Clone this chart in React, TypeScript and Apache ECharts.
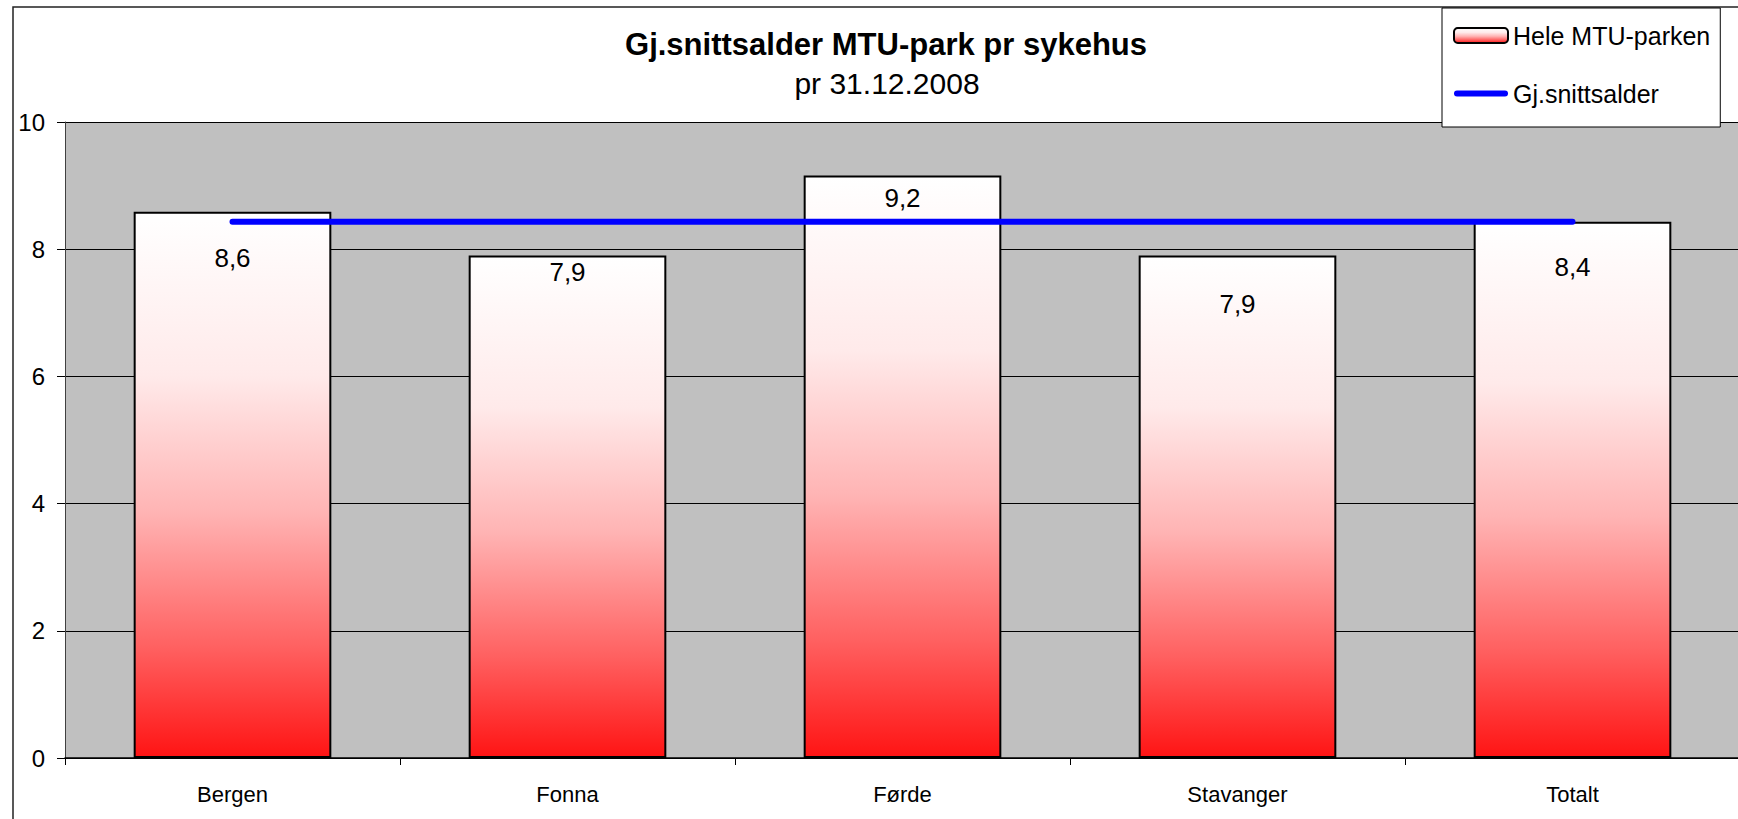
import React, { useEffect, useRef } from "react";
import * as echarts from "echarts";

const categories = ["Bergen", "Fonna", "Førde", "Stavanger", "Totalt"];
const barValues = [8.59, 7.9, 9.16, 7.9, 8.43];
const lineValues = [8.43, 8.43, 8.43, 8.43, 8.43];
const labelDy = [46, 16, 23, 48, 45];
const titleText = "Gj.snittsalder MTU-park pr sykehus";
const subtitleText = "pr 31.12.2008";
const barName = "Hele MTU-parken";
const lineName = "Gj.snittsalder";

export default function App() {
  const ref = useRef<HTMLDivElement>(null);
  useEffect(() => {
    if (!ref.current) return;
    const chart = echarts.init(ref.current, null, { renderer: "svg" });
    const font = "'Liberation Sans', Arial, sans-serif";
    const grad = new echarts.graphic.LinearGradient(0, 0, 0, 1, [
      { offset: 0, color: "#FFFFFF" },
      { offset: 0.3, color: "#FFEAEA" },
      { offset: 0.55, color: "#FFB4B4" },
      { offset: 0.8, color: "#FF6060" },
      { offset: 1, color: "#FF1414" },
    ]);
    chart.setOption({
      animation: false,
      backgroundColor: "#FFFFFF",
      textStyle: { fontFamily: font },
      graphic: [
        {
          type: "rect",
          shape: { x: 13, y: 7, width: 1800, height: 900 },
          style: { fill: "none", stroke: "#222", lineWidth: 1.5 },
          z: -1,
        },
        {
          type: "text",
          x: 886,
          y: 44,
          style: {
            text: titleText,
            font: `bold 31px ${font}`,
            fill: "#000",
            align: "center",
            verticalAlign: "middle",
          },
        },
        {
          type: "text",
          x: 887,
          y: 83,
          style: {
            text: subtitleText,
            font: `30px ${font}`,
            fill: "#000",
            align: "center",
            verticalAlign: "middle",
          },
        },
      ],
      legend: {
        orient: "vertical",
        left: 1442,
        top: 8,
        padding: [15, 10, 21, 11],
        itemWidth: 54,
        itemHeight: 15,
        itemGap: 33,
        backgroundColor: "#FFFFFF",
        borderColor: "#000",
        borderWidth: 1,
        textStyle: { fontSize: 25, color: "#000", fontFamily: font },
        data: [
          barName,
          {
            name: lineName,
            icon: "path://M3 0H51A3 3 0 0 1 51 6H3A3 3 0 0 1 3 0Z",
            itemStyle: { color: "#0000FF", borderWidth: 0 },
          },
        ],
      },
      grid: {
        left: 65,
        right: -2,
        top: 122,
        bottom: 61,
        show: true,
        backgroundColor: "#C0C0C0",
        borderWidth: 0,
        outerBoundsMode: "none",
        containLabel: false,
      },
      xAxis: {
        type: "category",
        data: categories,
        axisLine: { lineStyle: { color: "#000", width: 1.5 } },
        axisTick: { show: true, length: 7, lineStyle: { color: "#000" } },
        axisLabel: { color: "#000", fontSize: 22, margin: 25, fontFamily: font },
      },
      yAxis: {
        type: "value",
        min: 0,
        max: 10,
        interval: 2,
        axisLine: { show: true, lineStyle: { color: "#404040", width: 1 } },
        axisTick: { show: true, length: 8, lineStyle: { color: "#000" } },
        axisLabel: { color: "#000", fontSize: 24, margin: 20, fontFamily: font },
        splitLine: { show: true, lineStyle: { color: "#000", width: 1 } },
      },
      series: [
        {
          name: barName,
          type: "bar",
          barWidth: "59%",
          data: barValues.map((v, i) => ({
            value: v,
            label: {
              show: true,
              position: ["50%", labelDy[i]],
              align: "center",
              verticalAlign: "middle",
            },
          })),
          itemStyle: { color: grad, borderColor: "#000", borderWidth: 2 },
          label: {
            show: true,
            color: "#000",
            fontSize: 26,
            fontFamily: font,
            formatter: (p: any) => p.value.toFixed(1).replace(".", ","),
          },
          z: 2,
        },
        {
          name: lineName,
          type: "line",
          data: lineValues,
          symbol: "none",
          lineStyle: { color: "#0000FF", width: 6, cap: "round" },
          itemStyle: { color: "#0000FF" },
          z: 3,
        },
      ],
    });
    return () => chart.dispose();
  }, []);
  return (
    <div
      ref={ref}
      style={{ position: "fixed", left: 0, top: 0, width: 1738, height: 819 }}
    />
  );
}
